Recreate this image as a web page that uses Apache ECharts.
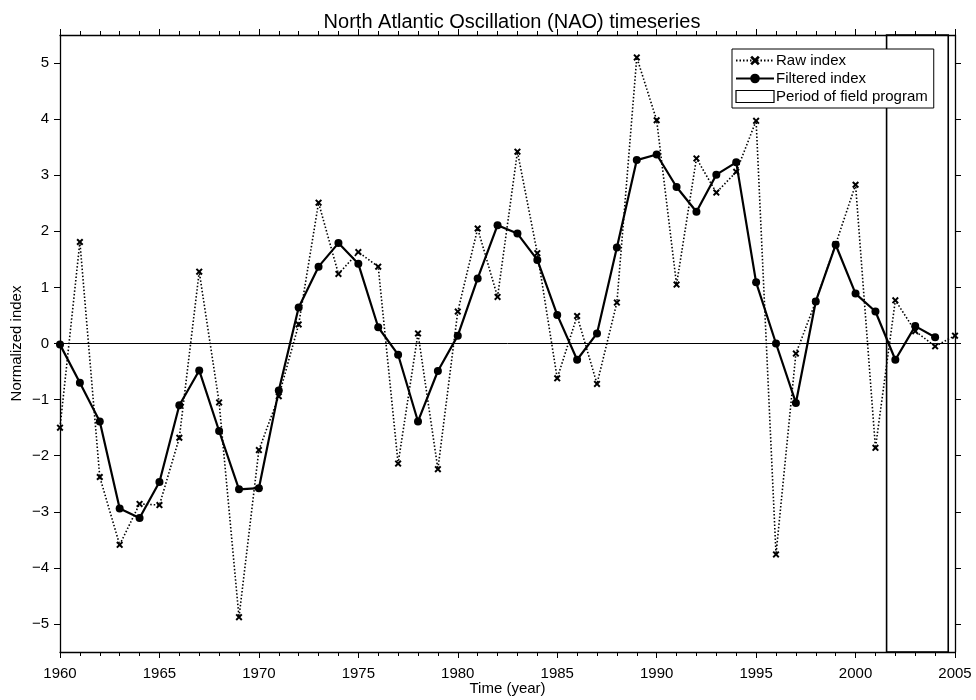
<!DOCTYPE html>
<html>
<head>
<meta charset="utf-8">
<script src="https://cdn.jsdelivr.net/npm/echarts@6/dist/echarts.min.js"></script>
<style>
  html, body { margin: 0; padding: 0; background: #fff; }
  #main { width: 976px; height: 700px; }
</style>
</head>
<body>
<div id="main"></div>
<script>
// NAO index
var rawYears = [1960, 1961, 1962, 1963, 1964, 1965, 1966, 1967, 1968, 1969,
  1970, 1971, 1972, 1973, 1974, 1975, 1976, 1977, 1978, 1979,
  1980, 1981, 1982, 1983, 1984, 1985, 1986, 1987, 1988, 1989,
  1990, 1991, 1992, 1993, 1994, 1995, 1996, 1997, 1998, 1999,
  2000, 2001, 2002, 2003, 2004, 2005];
var rawIndex = [-1.5, 1.81, -2.38, -3.59, -2.86, -2.88, -1.68, 1.28, -1.05, -4.88,
  -1.90, -0.94, 0.34, 2.51, 1.24, 1.63, 1.37, -2.14, 0.18, -2.24,
  0.57, 2.05, 0.83, 3.42, 1.61, -0.62, 0.49, -0.72, 0.73, 5.10,
  3.98, 1.05, 3.30, 2.69, 3.06, 3.97, -3.76, -0.18, 0.75, 1.77,
  2.83, -1.86, 0.77, 0.22, -0.05, 0.14];

var filtYears = rawYears.slice(0, 45);
var filtIndex = [-0.02, -0.70, -1.39, -2.94, -3.11, -2.47, -1.10, -0.48, -1.56, -2.60,
  -2.58, -0.84, 0.64, 1.37, 1.79, 1.42, 0.29, -0.20, -1.39, -0.49,
  0.14, 1.16, 2.11, 1.96, 1.49, 0.51, -0.29, 0.18, 1.71, 3.27,
  3.37, 2.79, 2.35, 3.01, 3.23, 1.09, 0.0, -1.06, 0.75, 1.76,
  0.89, 0.57, -0.29, 0.31, 0.11];

var fieldPeriod = [2001.56, 2004.66];
var yTicks = [-5, -4, -3, -2, -1, 0, 1, 2, 3, 4, 5];

function pairs(xs, ys) {
  var out = [];
  for (var i = 0; i < ys.length; i++) {
    out.push([xs[i], ys[i]]);
  }
  return out;
}

var font = 'Liberation Sans, Arial, sans-serif';
var crossPath = 'path://M2,0L5,3L8,0L10,2L7,5L10,8L8,10L5,7L2,10L0,8L3,5L0,2Z';

var chart = echarts.init(document.getElementById('main'), null, {renderer: 'canvas'});

var baseX = {
  type: 'value',
  min: 1960,
  max: 2005,
  interval: 5,
  axisLine: {show: true, onZero: false, lineStyle: {color: '#000', width: 1.3}},
  splitLine: {show: false},
  minorTick: {show: true, splitNumber: 5, length: 4, lineStyle: {color: '#000'}},
  axisTick: {show: true, inside: false, length: 6, lineStyle: {color: '#000'}}
};

var baseY = {
  type: 'value',
  min: -5.5,
  max: 5.5,
  axisLine: {show: true, onZero: false, lineStyle: {color: '#000', width: 1.3}},
  splitLine: {show: false},
  axisTick: {show: true, inside: false, length: 6, customValues: yTicks, lineStyle: {color: '#000'}}
};

var option = {
  backgroundColor: '#fff',
  animation: false,
  title: {
    text: 'North Atlantic Oscillation (NAO) timeseries',
    left: 507,
    textAlign: 'center',
    top: 7,
    textStyle: {fontFamily: font, fontSize: 20, fontWeight: 'normal', color: '#000'}
  },
  grid: {left: 60, right: 21, top: 35, bottom: 48, outerBoundsMode: 'none', containLabel: false},
  legend: {
    orient: 'vertical',
    left: 732,
    top: 49,
    padding: [4, 6, 4, 3],
    itemGap: 3,
    itemWidth: 38,
    itemHeight: 12,
    backgroundColor: '#fff',
    borderColor: '#000',
    borderWidth: 1,
    textStyle: {fontFamily: font, fontSize: 15, color: '#000', padding: [0, 0, 0, -3]},
    data: [
      {name: 'Raw index'},
      {name: 'Filtered index'},
      {name: 'Period of field program', icon: 'rect',
        itemStyle: {color: '#fff', borderColor: '#000', borderWidth: 1.2}}
    ]
  },
  xAxis: [
    Object.assign({}, baseX, {
      position: 'bottom',
      name: 'Time (year)',
      nameLocation: 'middle',
      nameGap: 29,
      nameMoveOverlap: false,
      nameTextStyle: {fontFamily: font, fontSize: 15, color: '#000'},
      axisLabel: {margin: 14, fontFamily: font, fontSize: 15, color: '#000',
        formatter: function (v) { return String(v); }}
    }),
    Object.assign({}, baseX, {
      position: 'top',
      axisLabel: {show: false}
    })
  ],
  yAxis: [
    Object.assign({}, baseY, {
      position: 'left',
      name: 'Normalized index',
      nameLocation: 'middle',
      nameGap: 36,
      nameMoveOverlap: false,
      nameTextStyle: {fontFamily: font, fontSize: 15, color: '#000'},
      axisLabel: {customValues: yTicks, margin: 11, fontFamily: font, fontSize: 15, color: '#000',
        formatter: function (v) { return v < 0 ? '\u2212' + Math.abs(v) : String(v); }}
    }),
    Object.assign({}, baseY, {
      position: 'right',
      axisLabel: {show: false}
    })
  ],
  series: [
    {
      name: 'Period of field program',
      type: 'line',
      data: [],
      itemStyle: {color: '#fff', borderColor: '#000'},
      markArea: {
        silent: true,
        itemStyle: {color: 'rgba(0,0,0,0)', borderColor: '#000', borderWidth: 1.6},
        data: [[{xAxis: fieldPeriod[0]}, {xAxis: fieldPeriod[1]}]]
      }
    },
    {
      name: 'Raw index',
      type: 'line',
      data: pairs(rawYears, rawIndex),
      symbol: crossPath,
      symbolSize: 7,
      color: '#000',
      itemStyle: {color: '#000'},
      lineStyle: {color: '#000', width: 1.6, type: [1.5, 2]},
      z: 3
    },
    {
      name: 'Filtered index',
      type: 'line',
      data: pairs(filtYears, filtIndex),
      symbol: 'circle',
      symbolSize: 8,
      color: '#000',
      itemStyle: {color: '#000'},
      lineStyle: {color: '#000', width: 2.2},
      z: 4,
      markLine: {
        silent: true,
        symbol: 'none',
        label: {show: false},
        lineStyle: {color: '#000', width: 1, type: 'solid'},
        data: [{yAxis: 0}]
      }
    }
  ]
};

chart.setOption(option);
</script>
</body>
</html>
